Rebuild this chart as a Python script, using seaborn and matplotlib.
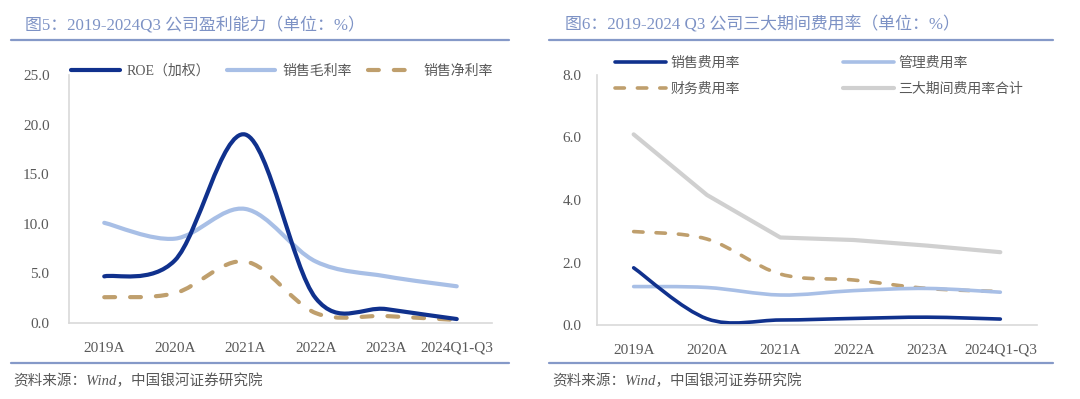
import numpy as np
import pandas as pd
import matplotlib
matplotlib.use("Agg")
import matplotlib.pyplot as plt
import seaborn as sns
from matplotlib.path import Path
from matplotlib.patches import PathPatch
from matplotlib.lines import Line2D

# data
years = ['2019A', '2020A', '2021A', '2022A', '2023A', '2024Q1-Q3']

# chart 5: profitability (%)
roe = [4.7, 6.3, 19.0, 2.5, 1.4, 0.4]
gross_margin = [10.1, 8.5, 11.5, 6.2, 4.7, 3.7]
net_margin = [2.6, 3.0, 6.2, 1.0, 0.7, 0.3]

# chart 6: expense ratios (%)
sales_exp = [1.83, 0.20, 0.16, 0.21, 0.25, 0.19]
admin_exp = [1.23, 1.20, 0.96, 1.10, 1.17, 1.05]
fin_exp = [2.99, 2.75, 1.63, 1.44, 1.17, 1.07]
total_exp = [6.10, 4.16, 2.80, 2.72, 2.54, 2.33]

left_ticks = [0, 5, 10, 15, 20, 25]
right_ticks = [0, 2, 4, 6, 8]

# colours
NAVY = '#10318d'
LIGHT = '#a8bfe6'
TAN = '#bf9f6d'
GREY = '#d0d0d0'
TITLE_C = '#7d92c5'
TEXT_C = '#595959'
DASH = (0, (2.6, 3.6))

sns.set_theme(style='white')
FONTS = ['Liberation Serif', 'Noto Sans CJK SC', 'DejaVu Sans']
plt.rcParams['font.family'] = FONTS


def smooth_path(xs, ys):
    # Excel-like smoothed line: Catmull-Rom segments as cubic Beziers
    pts = np.column_stack([xs, ys]).astype(float)
    n = len(pts)
    verts = [pts[0]]
    codes = [Path.MOVETO]
    for i in range(n - 1):
        p0 = pts[max(i - 1, 0)]
        p1 = pts[i]
        p2 = pts[i + 1]
        p3 = pts[min(i + 2, n - 1)]
        verts += [p1 + (p2 - p0) / 6, p2 - (p3 - p1) / 6, p2]
        codes += [Path.CURVE4] * 3
    return Path(verts, codes)


def smooth_line(ax, values, color, lw, ls='-'):
    xs = np.arange(len(values))
    patch = PathPatch(smooth_path(xs, values), fill=False, edgecolor=color,
                      lw=lw, linestyle=ls, capstyle='round', joinstyle='round')
    ax.add_patch(patch)


def style_axes(ax, yticks, ypad):
    ax.set_xlim(-0.5, len(years) - 0.5)
    ax.set_ylim(yticks[0], yticks[-1])
    ax.set_xticks(range(len(years)))
    ax.set_xticklabels(years)
    ax.set_yticks(yticks)
    ax.set_yticklabels(['{:.1f}'.format(t) for t in yticks])
    ax.tick_params(axis='x', length=0, pad=13.5, labelsize=11, labelcolor=TEXT_C)
    ax.tick_params(axis='y', length=0, pad=ypad, labelsize=11, labelcolor=TEXT_C)
    for s in ['top', 'right']:
        ax.spines[s].set_visible(False)
    for s in ['left', 'bottom']:
        ax.spines[s].set_color('#d9d9d9')
        ax.spines[s].set_linewidth(1.2)
    ax.set_xlabel('')
    ax.set_ylabel('')
    ax.grid(False)


W, H = 1080, 399
fig = plt.figure(figsize=(10.8, 3.99), dpi=100)

# ---------------- left chart: profitability ----------------
ax1 = fig.add_axes([69 / W, 1 - 323 / H, 423 / W, 248 / H])
smooth_line(ax1, gross_margin, LIGHT, 3.0)
smooth_line(ax1, net_margin, TAN, 3.0, DASH)
smooth_line(ax1, roe, NAVY, 3.0)
style_axes(ax1, left_ticks, 14)

h1 = [Line2D([], [], color=NAVY, lw=3.0, solid_capstyle='round'),
      Line2D([], [], color=LIGHT, lw=3.0, solid_capstyle='round'),
      Line2D([], [], color=TAN, lw=3.0, linestyle=DASH, dash_capstyle='round')]
fig.legend(h1, ['ROE（加权）', '销售毛利率', '销售净利率'], ncol=3,
           loc='center left', bbox_to_anchor=(71 / W, 1 - 71 / H),
           frameon=False, fontsize=10, handlelength=3.5, handletextpad=0.5,
           columnspacing=1.2, labelcolor=TEXT_C, borderpad=0, borderaxespad=0)

# ---------------- right chart: expense ratios ----------------
ax2 = fig.add_axes([597 / W, 1 - 325 / H, 440 / W, 250 / H])
exp_df = pd.DataFrame({'pos': np.arange(len(years)), 'total': total_exp})
sns.lineplot(data=exp_df, x='pos', y='total', ax=ax2, color=GREY, lw=3.0)
smooth_line(ax2, fin_exp, TAN, 2.6, DASH)
smooth_line(ax2, admin_exp, LIGHT, 2.6)
smooth_line(ax2, sales_exp, NAVY, 2.6)
style_axes(ax2, right_ticks, 11)

h2 = [Line2D([], [], color=NAVY, lw=2.6),
      Line2D([], [], color=TAN, lw=2.6, linestyle=DASH, dash_capstyle='round'),
      Line2D([], [], color=LIGHT, lw=2.6),
      Line2D([], [], color=GREY, lw=3.0)]
fig.legend(h2, ['销售费用率', '财务费用率', '管理费用率', '三大期间费用率合计'], ncol=2,
           loc='center left', bbox_to_anchor=(615 / W, 1 - 76 / H),
           frameon=False, fontsize=10, handlelength=3.7, handletextpad=0.3,
           columnspacing=7.4, labelspacing=0.9, labelcolor=TEXT_C,
           borderpad=0, borderaxespad=0)

# ---------------- titles, rules and sources ----------------
fig.text(25 / W, 1 - 25 / H, '图5：2019-2024Q3 公司盈利能力（单位：%）',
         fontsize=12.2, color=TITLE_C, va='center', ha='left')
fig.text(565 / W, 1 - 25 / H, '图6：2019-2024 Q3 公司三大期间费用率（单位：%）',
         fontsize=12.2, color=TITLE_C, va='center', ha='left')

for x0, x1 in [(11, 509), (549, 1053)]:
    for y in [40, 363]:
        fig.add_artist(Line2D([x0 / W, x1 / W], [1 - y / H, 1 - y / H],
                              color='#8599c8', lw=1.6))

for x0 in [13, 552]:
    fig.text(x0 / W, 1 - 381 / H, '资料来源：Wind，中国银河证券研究院',
             fontsize=10.5, color=TEXT_C, va='center', ha='left', style='italic')

fig.savefig('out.png', dpi=100)
